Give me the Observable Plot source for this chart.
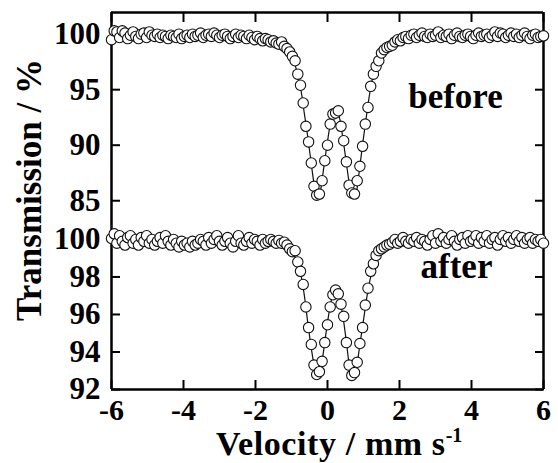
<!DOCTYPE html>
<html><head><meta charset="utf-8">
<script src="https://cdn.jsdelivr.net/npm/d3@7"></script>
<script src="https://cdn.jsdelivr.net/npm/@observablehq/plot@0.6"></script>
<style>
body{margin:0;background:#fff;}
#wrap{position:relative;width:558px;height:463px;font-family:'Liberation Serif','DejaVu Serif',serif;font-weight:bold;color:#000;background:#fff;}
#wrap svg{display:block;}
#wrap svg text{font-family:'Liberation Serif','DejaVu Serif',serif;}
.ylab{position:absolute;left:29px;top:190px;transform:translate(-50%,-50%) rotate(-90deg);font-size:35px;white-space:nowrap;line-height:1;}
.xlab{position:absolute;left:216px;top:427px;font-size:34px;letter-spacing:0.6px;white-space:nowrap;line-height:1;}
.xlab sup{font-size:20px;vertical-align:13px;line-height:0;letter-spacing:0;}
</style></head><body><div id="wrap"></div>
<script>
// Velocity channels (mm/s)
const velocity = [
 -6,-5.925,-5.85,-5.775,-5.7,-5.625,-5.55,-5.475,-5.4,-5.325,-5.25,-5.175,-5.1,-5.025,
 -4.95,-4.875,-4.8,-4.725,-4.65,-4.575,-4.5,-4.425,-4.35,-4.275,-4.2,-4.125,-4.05,-3.975,
 -3.9,-3.825,-3.75,-3.675,-3.6,-3.525,-3.45,-3.375,-3.3,-3.225,-3.15,-3.075,-3,-2.925,
 -2.85,-2.775,-2.7,-2.625,-2.55,-2.475,-2.4,-2.325,-2.25,-2.175,-2.1,-2.025,-1.95,-1.875,
 -1.8,-1.725,-1.65,-1.575,-1.5,-1.425,-1.35,-1.275,-1.2,-1.125,-1.05,-0.975,-0.9,-0.825,
 -0.75,-0.675,-0.6,-0.525,-0.45,-0.375,-0.3,-0.225,-0.15,-0.075,0,
 0.075,0.15,0.225,0.3,0.375,0.45,0.525,0.6,0.675,0.75,0.825,0.9,0.975,1.05,
 1.125,1.2,1.275,1.35,1.425,1.5,1.575,1.65,1.725,1.8,1.875,1.95,2.025,2.1,
 2.175,2.25,2.325,2.4,2.475,2.55,2.625,2.7,2.775,2.85,2.925,3,3.075,3.15,
 3.225,3.3,3.375,3.45,3.525,3.6,3.675,3.75,3.825,3.9,3.975,4.05,4.125,4.2,
 4.275,4.35,4.425,4.5,4.575,4.65,4.725,4.8,4.875,4.95,5.025,5.1,5.175,5.25,
 5.325,5.4,5.475,5.55,5.625,5.7,5.775,5.85,5.925,6
];
// Transmission (%) – "before"
const beforeT = [
 99.5,100.3,100.2,99.7,100.3,100.1,99.6,99.9,100.2,99.8,
 99.6,100.0,100.1,99.7,100.2,99.9,99.8,100.0,99.7,99.9,
 99.8,99.6,99.9,99.8,99.7,100.0,99.6,99.8,99.9,99.7,
 100.0,99.8,99.9,100.1,99.7,99.9,100.0,99.8,100.1,99.9,
 99.7,99.9,100.0,99.8,99.6,99.8,100.0,99.7,99.9,99.8,
 99.6,99.9,99.7,99.5,99.8,99.6,99.4,99.6,99.5,99.3,
 99.4,99.2,99.1,99.3,98.9,98.7,98.4,98.0,97.6,96.4,
 95.4,93.8,91.7,90.3,88.4,86.3,85.5,85.6,86.8,88.6,
 90.0,91.9,92.8,92.9,93.1,91.7,90.4,88.5,86.4,85.7,
 85.6,86.8,88.1,89.9,91.9,93.4,95.3,96.4,97.1,97.6,
 98.3,98.6,98.8,98.9,99.0,99.3,99.5,99.4,99.7,99.8,
 99.6,99.9,100.0,99.7,99.9,100.1,99.8,99.7,100.0,99.8,
 99.9,100.2,99.7,99.9,99.8,100.0,99.6,99.9,100.1,99.8,
 99.7,99.9,100.0,99.8,99.6,99.9,100.1,99.8,99.9,100.0,
 99.7,99.9,100.2,99.8,100.1,100.0,99.7,99.9,100.1,99.8,
 100.0,99.7,99.9,100.1,99.8,99.6,99.9,100.0,99.7,99.8,
 99.85
];
// Transmission (%) – "after"
const afterT = [
 100.05,100.3,99.8,100.2,99.9,99.7,100.1,100.2,99.8,100.0,
 99.7,100.1,99.9,100.2,99.8,100.0,99.7,99.9,100.1,99.8,
 100.2,99.9,99.7,100.0,99.8,99.6,99.9,99.7,99.8,99.6,
 99.9,99.7,99.8,100.0,99.9,99.7,100.1,99.8,100.0,100.2,
 99.9,99.7,99.9,100.1,99.8,99.6,99.9,100.2,99.8,99.7,
 99.9,100.1,99.8,100.0,99.9,99.7,100.0,99.8,99.9,100.0,
 99.9,99.8,99.95,99.8,99.85,99.7,99.5,99.35,99.4,98.8,
 98.3,97.6,96.4,95.3,94.4,93.3,92.8,92.95,93.5,94.5,
 95.45,96.4,97.05,97.3,97.1,96.55,95.9,94.5,93.3,92.75,
 92.9,93.45,94.45,95.3,96.5,97.4,98.3,98.7,99.15,99.4,
 99.5,99.6,99.7,99.75,99.85,100.0,99.8,99.9,100.1,99.9,
 99.8,100.0,99.9,100.1,99.8,100.0,99.9,99.7,100.0,100.2,
 99.8,100.3,99.9,100.1,99.8,100.0,100.2,99.9,99.7,100.0,
 100.1,99.8,100.2,99.9,100.0,100.2,99.8,100.1,99.9,100.2,
 99.8,100.0,100.1,99.7,100.0,100.2,99.9,100.1,99.8,100.0,
 100.2,99.9,100.1,99.8,100.0,100.1,99.8,100.0,99.9,100.0,
 99.8
];
// Fitted curves
const fitBeforeV = [-6,-4,-3,-2.5,-2,-1.6,-1.3,-1.1,-0.95,-0.85,-0.75,-0.65,-0.55,-0.45,-0.36,-0.28,-0.2,-0.12,-0.02,0.08,0.17,0.25,0.33,0.42,0.52,0.62,0.7,0.75,0.8,0.88,0.98,1.08,1.18,1.28,1.4,1.55,1.75,2,2.5,3,4,6];
const fitBeforeT = [99.85,99.85,99.8,99.7,99.6,99.35,99.0,98.5,97.7,96.6,95.2,93.0,90.8,88.3,86.3,85.4,85.9,87.6,89.9,91.9,92.9,93.1,92.5,90.8,88.5,86.3,85.3,85.2,85.7,87.6,90.2,92.6,94.8,96.4,97.5,98.3,98.9,99.4,99.7,99.8,99.85,99.85];
const fitAfterV = [-6,-3,-2,-1.5,-1.2,-1.0,-0.85,-0.75,-0.65,-0.55,-0.45,-0.36,-0.28,-0.2,-0.12,-0.02,0.08,0.17,0.25,0.33,0.42,0.52,0.6,0.68,0.74,0.8,0.9,1.0,1.1,1.2,1.3,1.45,1.7,2,3,6];
const fitAfterT = [99.95,99.9,99.85,99.8,99.7,99.4,98.8,98.2,97.1,95.6,94.2,93.2,92.75,93.0,93.9,95.3,96.5,97.15,97.25,96.9,96.0,94.6,93.4,92.75,92.7,93.1,94.4,95.7,97.0,98.0,98.7,99.3,99.7,99.85,99.95,99.95];

const xTicks = [-6,-4,-2,0,2,4,6];
const beforeTicks = [85,90,95,100];
const afterTicks = [92,94,96,98,100];
const xDomain = [-6,6];
const beforeDomain = [83.22,101.95];
const afterDomain = [92,101.01];

const before = velocity.map((v,i)=>({v, t: beforeT[i]}));
const after = velocity.map((v,i)=>({v, t: afterT[i]}));
const fitBefore = fitBeforeV.map((v,i)=>({v, t: fitBeforeT[i]}));
const fitAfter = fitAfterV.map((v,i)=>({v, t: fitAfterT[i]}));

const font = "'Liberation Serif','DejaVu Serif',serif";
const common = {
  width: 558, marginLeft: 111, marginRight: 15,
  style: {fontFamily: font, fontWeight: "bold", fontSize: "31px", color: "#000", background: "#fff", overflow: "visible"}
};
const dotStyle = {x: "v", y: "t", r: 5.2, fill: "white", stroke: "#111", strokeWidth: 1.1};

const plotTop = Plot.plot({
  ...common, height: 220, marginTop: 12, marginBottom: 0,
  x: {domain: xDomain, label: null},
  y: {domain: beforeDomain, label: null},
  marks: [
    Plot.axisX(xTicks, {anchor: "top", tickSize: -9, tickFormat: () => "", strokeWidth: 2, label: null}),
    Plot.axisY(beforeTicks, {anchor: "left", tickSize: -9, tickPadding: 20, strokeWidth: 2, label: null, tickFormat: d => String(d), fontFamily: font}),
    Plot.axisY(beforeTicks, {anchor: "right", tickSize: -9, tickFormat: () => "", strokeWidth: 2, label: null}),
    Plot.ruleX(xDomain, {strokeWidth: 2.5}),
    Plot.ruleY([beforeDomain[1]], {strokeWidth: 2.5}),
    Plot.line(fitBefore, {x: "v", y: "t", curve: "catmull-rom", strokeWidth: 1.2, stroke: "#111"}),
    Plot.dot(before, dotStyle),
    Plot.text(["before"], {frameAnchor: "top-right", dx: -88, dy: 95, textAnchor: "middle", lineAnchor: "bottom", fontSize: 35, fontWeight: "bold", fontFamily: font})
  ]
});

const plotBottom = Plot.plot({
  ...common, height: 243, marginTop: 0, marginBottom: 74,
  x: {domain: xDomain, label: null},
  y: {domain: afterDomain, label: null},
  marks: [
    Plot.axisX(xTicks, {anchor: "bottom", tickSize: -9, tickPadding: 18, strokeWidth: 2, label: null, tickFormat: d => String(d), fontFamily: font, fontSize: 30}),
    Plot.axisY(afterTicks, {anchor: "left", tickSize: -9, tickPadding: 20, strokeWidth: 2, label: null, tickFormat: d => String(d), fontFamily: font}),
    Plot.axisY(afterTicks, {anchor: "right", tickSize: -9, tickFormat: () => "", strokeWidth: 2, label: null}),
    Plot.ruleX(xDomain, {strokeWidth: 2.5}),
    Plot.ruleY([afterDomain[0]], {strokeWidth: 2.5}),
    Plot.line(fitAfter, {x: "v", y: "t", curve: "catmull-rom", strokeWidth: 1.2, stroke: "#111"}),
    Plot.dot(after, dotStyle),
    Plot.text(["after"], {frameAnchor: "top-right", dx: -87, dy: 57, textAnchor: "middle", lineAnchor: "bottom", fontSize: 35, fontWeight: "bold", fontFamily: font})
  ]
});

const wrap = document.getElementById("wrap");
wrap.appendChild(plotTop);
wrap.appendChild(plotBottom);
const yl = document.createElement("div");
yl.className = "ylab";
yl.textContent = "Transmission / %";
wrap.appendChild(yl);
const xl = document.createElement("div");
xl.className = "xlab";
xl.innerHTML = "Velocity / mm s<sup>-1</sup>";
wrap.appendChild(xl);
</script></body></html>
